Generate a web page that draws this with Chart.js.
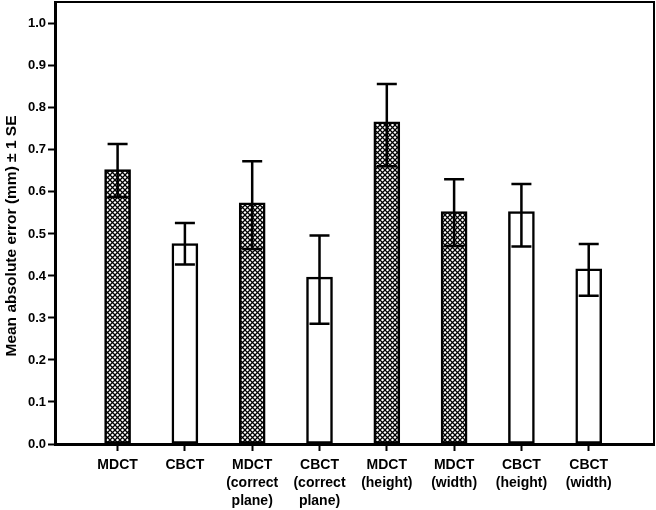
<!DOCTYPE html>
<html>
<head>
<meta charset="utf-8">
<script src="https://cdn.jsdelivr.net/npm/chart.js@4.4.1/dist/chart.umd.min.js"></script>
<style>
  html, body { margin: 0; padding: 0; background: #fff; }
  #wrap { width: 656px; height: 510px; }
</style>
</head>
<body>
<div id="wrap"><canvas id="chart1"></canvas></div>
<script>
// categories (one array entry per printed line of the label)
var categories = [
  ["MDCT"],
  ["CBCT"],
  ["MDCT", "(correct", "plane)"],
  ["CBCT", "(correct", "plane)"],
  ["MDCT", "(height)"],
  ["MDCT", "(width)"],
  ["CBCT", "(height)"],
  ["CBCT", "(width)"]
];
// mean absolute error (mm)
var meanErr = [0.653, 0.477, 0.574, 0.397, 0.767, 0.553, 0.553, 0.417];
// mean + 1 SE and mean - 1 SE
var errHigh = [0.714, 0.526, 0.673, 0.496, 0.857, 0.630, 0.619, 0.476];
var errLow  = [0.588, 0.427, 0.464, 0.286, 0.661, 0.471, 0.470, 0.353];
// y tick labels
var yTicks = [0.0, 0.1, 0.2, 0.3, 0.4, 0.5, 0.6, 0.7, 0.8, 0.9, 1.0];
var yTitle = "Mean absolute error (mm) \u00b1 1 SE";

var FONT = "'Liberation Sans', Arial, sans-serif";

// cross hatch fill for the MDCT bars
function makeHatch() {
  var s = 5;
  var c = document.createElement("canvas");
  c.width = s; c.height = s;
  var g = c.getContext("2d");
  g.fillStyle = "#fff";
  g.fillRect(0, 0, s, s);
  g.strokeStyle = "#000";
  g.lineWidth = 1.25;
  g.beginPath();
  g.moveTo(-1, -1); g.lineTo(s + 1, s + 1);
  g.moveTo(s + 1, -1); g.lineTo(-1, s + 1);
  g.stroke();
  return g.createPattern(c, "repeat");
}
var hatch = makeHatch();

var fills = categories.map(function (c) {
  return c[0] === "MDCT" ? hatch : "#fff";
});

// error bars, top/right frame and the y title
var errorBars = {
  id: "errorBars",
  afterDatasetsDraw: function (chart) {
    var ctx = chart.ctx;
    var xs = chart.scales.x, ys = chart.scales.y;
    ctx.save();
    ctx.strokeStyle = "#000";
    ctx.lineWidth = 2.5;
    var cap = 10;
    for (var i = 0; i < meanErr.length; i++) {
      var x = xs.getPixelForValue(i);
      var yh = ys.getPixelForValue(errHigh[i]);
      var yl = ys.getPixelForValue(errLow[i]);
      ctx.beginPath();
      ctx.moveTo(x, yh); ctx.lineTo(x, yl);
      ctx.moveTo(x - cap, yh); ctx.lineTo(x + cap, yh);
      ctx.moveTo(x - cap, yl); ctx.lineTo(x + cap, yl);
      ctx.stroke();
    }
    var a = chart.chartArea;
    ctx.lineWidth = 2;
    ctx.beginPath();
    ctx.moveTo(a.left, a.top); ctx.lineTo(a.right, a.top); ctx.lineTo(a.right, a.bottom);
    ctx.stroke();

    ctx.translate(12, 236);
    ctx.rotate(-Math.PI / 2);
    ctx.fillStyle = "#000";
    ctx.font = "bold 15.5px " + FONT;
    ctx.textAlign = "center";
    ctx.textBaseline = "middle";
    ctx.fillText(yTitle, 0, 0);
    ctx.restore();
  }
};

var ctx1 = document.getElementById("chart1");

var chart1 = new Chart(ctx1, {
  type: "bar",
  data: {
    datasets: [{
      label: "Mean absolute error",
      data: meanErr.map(function (v, i) { return { x: i, y: v }; }),
      backgroundColor: fills,
      borderColor: "#000",
      borderWidth: 2.5,
      borderSkipped: false,
      barThickness: 26
    }]
  },
  plugins: [errorBars],
  options: {
    responsive: true,
    maintainAspectRatio: false,
    animation: false,
    layout: { padding: { top: 2, right: 2, left: 0, bottom: 0 } },
    plugins: {
      legend: { display: false },
      tooltip: { enabled: false }
    },
    scales: {
      x: {
        type: "linear",
        offset: false,
        min: -0.93,
        max: 7.97,
        afterBuildTicks: function (scale) {
          scale.ticks = categories.map(function (c, i) { return { value: i }; });
        },
        afterFit: function (scale) {
          scale.height = 66;
          scale.paddingLeft = 0;
          scale.paddingRight = 0;
        },
        grid: {
          offset: false,
          drawOnChartArea: false,
          drawTicks: true,
          tickLength: 7,
          tickWidth: 2,
          tickColor: "#000"
        },
        border: { display: true, color: "#000", width: 3 },
        ticks: {
          autoSkip: false,
          maxRotation: 0,
          padding: 5,
          color: "#000",
          font: { family: FONT, size: 14, weight: "bold", lineHeight: 1.3 },
          callback: function (v) { return categories[v]; }
        }
      },
      y: {
        min: 0,
        max: 1.052,
        afterBuildTicks: function (scale) {
          scale.ticks = yTicks.map(function (v) { return { value: v }; });
        },
        afterFit: function (scale) {
          scale.width = 55;
          scale.paddingTop = 0;
          scale.paddingBottom = 0;
        },
        grid: {
          drawOnChartArea: false,
          drawTicks: true,
          tickLength: 7,
          tickWidth: 2,
          tickColor: "#000"
        },
        border: { display: true, color: "#000", width: 3 },
        ticks: {
          padding: 2,
          color: "#000",
          font: { family: FONT, size: 13, weight: "bold" },
          callback: function (v) { return v.toFixed(1); }
        }
      }
    }
  }
});
</script>
</body>
</html>
